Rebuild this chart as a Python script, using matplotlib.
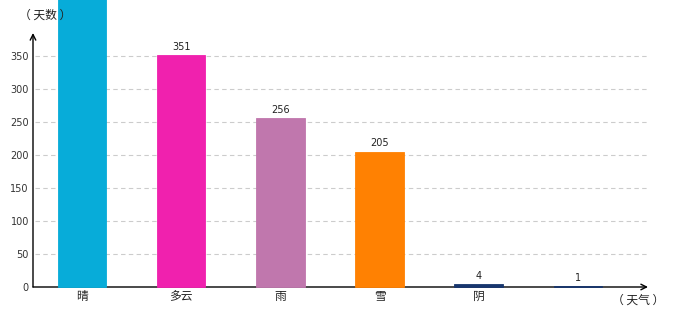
import matplotlib
matplotlib.use("Agg")
import matplotlib.pyplot as plt

plt.rcParams['font.family'] = ['Noto Sans CJK SC', 'DejaVu Sans']

# datos
categorias = ['晴', '多云', '雨', '雪', '阴', '']
dias = [480, 351, 256, 205, 4, 1]
colores = ['#07acd9', '#f021ae', '#c077ad', '#ff8102', '#17366e', '#17366e']
ticks_y = [0, 50, 100, 150, 200, 250, 300, 350]

fig = plt.figure(figsize=(6.8, 3.2), dpi=100)
ax = fig.add_axes([33 / 680, 33 / 320, 615 / 680, 254 / 320])

ax.set_xlim(-0.494, 5.706)
ax.set_ylim(0, 385)

# rejilla
for t in ticks_y[1:]:
    ax.axhline(t, xmin=0.004, color='#cccccc', linestyle=(0, (4, 3)), linewidth=0.8, zorder=0)

x = list(range(len(categorias)))
ax.bar(x, dias, width=0.49, color=colores, edgecolor=colores, linewidth=0.6,
       zorder=3, clip_on=False)
# etiquetas de valor (la del primer bar queda fuera de la imagen)
for xi, v in zip(x, dias):
    if v > 385:
        continue
    ax.text(xi, v + 5, str(v), ha='center', va='bottom', fontsize=7, color='#222222',
            family='DejaVu Sans')

ax.set_xticks(x)
ax.set_xticklabels(categorias, fontsize=8.5, color='#222222')
ax.set_yticks(ticks_y)
ax.set_yticklabels([str(t) for t in ticks_y], fontsize=7, color='#333333', family='DejaVu Sans')
ax.tick_params(axis='both', length=0, pad=2)
ax.tick_params(axis='y', pad=3)

for s in ['top', 'right', 'left', 'bottom']:
    ax.spines[s].set_visible(False)

# ejes con flechas
ax.annotate('', xy=(0, 1.0), xycoords='axes fraction', xytext=(0, 0),
            arrowprops=dict(arrowstyle='->', color='black', lw=1.0, shrinkA=0, shrinkB=0),
            zorder=1)
ax.annotate('', xy=(1.0, 0), xycoords='axes fraction', xytext=(0, 0),
            arrowprops=dict(arrowstyle='->', color='black', lw=1.0, shrinkA=0, shrinkB=0),
            zorder=1)

fig.text(19 / 680, 1 - 15 / 320, '（ 天数 ）', fontsize=8.5, color='#222222', va='center', ha='left',
         zorder=0)
fig.text(612 / 680, 1 - 300 / 320, '（ 天气 ）', fontsize=8.5, color='#222222', va='center', ha='left')

fig.savefig('out.png', dpi=100)
